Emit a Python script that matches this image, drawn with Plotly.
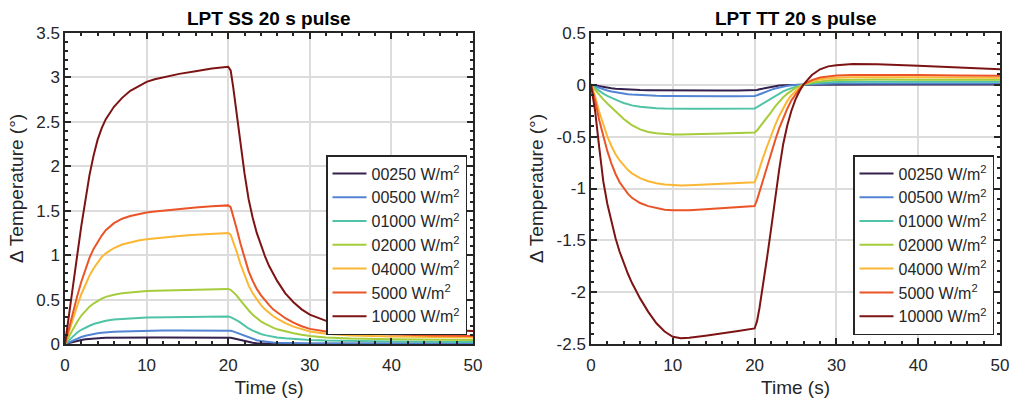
import plotly.graph_objects as go

# ---------------- data ----------------
time_s = [0, 0.5, 1, 1.5, 2, 2.5, 3, 3.5, 4, 4.5,
          5, 6, 7, 8, 9, 10, 11, 12, 14, 16,
          18, 20, 20.3, 20.6, 21, 21.5, 22, 22.5, 23, 23.5,
          24, 24.5, 25, 25.5, 26, 27, 28, 29, 30, 32,
          35, 40, 45, 50]

series_labels = ["00250 W/m<sup>2</sup>", "00500 W/m<sup>2</sup>", "01000 W/m<sup>2</sup>",
                 "02000 W/m<sup>2</sup>", "04000 W/m<sup>2</sup>", "5000 W/m<sup>2</sup>",
                 "10000 W/m<sup>2</sup>"]

# LPT SS 20 s pulse
ss_00250 = [0, 0.013, 0.026, 0.037, 0.046, 0.053, 0.058, 0.062, 0.065, 0.067,
            0.069, 0.071, 0.072, 0.073, 0.073, 0.073, 0.074, 0.074, 0.074, 0.075,
            0.075, 0.075, 0.071, 0.065, 0.055, 0.042, 0.03, 0.02, 0.013, 0.009,
            0.006, 0.005, 0.004, 0.003, 0.003, 0.002, 0.002, 0.002, 0.002, 0.002,
            0.002, 0.002, 0.002, 0.002]
ss_00500 = [0, 0.022, 0.044, 0.063, 0.079, 0.092, 0.103, 0.112, 0.12, 0.126,
            0.131, 0.138, 0.142, 0.145, 0.147, 0.149, 0.15, 0.151, 0.152, 0.153,
            0.154, 0.155, 0.15, 0.142, 0.128, 0.108, 0.088, 0.07, 0.055, 0.043,
            0.034, 0.027, 0.022, 0.018, 0.015, 0.011, 0.009, 0.008, 0.007, 0.006,
            0.006, 0.005, 0.005, 0.005]
ss_01000 = [0, 0.045, 0.09, 0.13, 0.16, 0.185, 0.205, 0.225, 0.24, 0.252,
            0.262, 0.276, 0.284, 0.29, 0.294, 0.297, 0.299, 0.301, 0.304, 0.306,
            0.308, 0.31, 0.303, 0.29, 0.27, 0.24, 0.205, 0.175, 0.15, 0.13,
            0.113, 0.1, 0.09, 0.081, 0.074, 0.064, 0.056, 0.05, 0.045, 0.038,
            0.032, 0.027, 0.024, 0.022]
ss_02000 = [0, 0.09, 0.17, 0.25, 0.32, 0.37, 0.42, 0.455, 0.485, 0.51,
            0.53, 0.555, 0.57, 0.58, 0.59, 0.597, 0.6, 0.603, 0.608, 0.612,
            0.616, 0.62, 0.61, 0.585, 0.55, 0.49, 0.43, 0.38, 0.33, 0.29,
            0.255, 0.23, 0.205, 0.185, 0.165, 0.14, 0.12, 0.103, 0.09, 0.073,
            0.062, 0.054, 0.05, 0.046]
ss_04000 = [0, 0.15, 0.3, 0.43, 0.56, 0.67, 0.77, 0.85, 0.92, 0.98,
            1.02, 1.08, 1.12, 1.145, 1.165, 1.18, 1.19, 1.2, 1.215, 1.23,
            1.24, 1.25, 1.23, 1.16, 1.05, 0.9, 0.77, 0.66, 0.57, 0.5,
            0.44, 0.39, 0.35, 0.315, 0.285, 0.235, 0.195, 0.165, 0.14, 0.115,
            0.097, 0.085, 0.078, 0.073]
ss_05000 = [0, 0.19, 0.37, 0.54, 0.7, 0.84, 0.97, 1.07, 1.15, 1.22,
            1.28, 1.36, 1.41, 1.44, 1.46, 1.48, 1.49, 1.5, 1.52, 1.535,
            1.55, 1.56, 1.54, 1.45, 1.31, 1.13, 0.96, 0.82, 0.71, 0.62,
            0.55, 0.49, 0.44, 0.39, 0.355, 0.29, 0.24, 0.2, 0.17, 0.14,
            0.12, 0.105, 0.095, 0.09]
ss_10000 = [0, 0.35, 0.68, 1.0, 1.33, 1.64, 1.9, 2.12, 2.3, 2.43,
            2.53, 2.67, 2.77, 2.85, 2.9, 2.95, 2.98, 3.0, 3.04, 3.07,
            3.1, 3.12, 3.08, 2.9, 2.62, 2.25, 1.92, 1.63, 1.42, 1.25,
            1.11, 0.99, 0.88, 0.79, 0.71, 0.57, 0.47, 0.39, 0.33, 0.26,
            0.21, 0.18, 0.16, 0.145]

# LPT TT 20 s pulse
tt_00250 = [0, -0.008, -0.016, -0.022, -0.028, -0.033, -0.037, -0.04, -0.043, -0.045,
            -0.047, -0.05, -0.052, -0.053, -0.054, -0.055, -0.055, -0.055, -0.055, -0.055,
            -0.055, -0.054, -0.049, -0.043, -0.036, -0.027, -0.019, -0.012, -0.007, -0.003,
            -0.001, 0.0, 0.001, 0.001, 0.002, 0.002, 0.003, 0.003, 0.004, 0.004,
            0.004, 0.004, 0.004, 0.004]
tt_00500 = [0, -0.015, -0.03, -0.043, -0.054, -0.064, -0.072, -0.079, -0.085, -0.09,
            -0.094, -0.1, -0.104, -0.106, -0.108, -0.109, -0.11, -0.11, -0.11, -0.11,
            -0.109, -0.108, -0.1, -0.09, -0.078, -0.063, -0.049, -0.036, -0.026, -0.017,
            -0.01, -0.005, -0.001, 0.001, 0.003, 0.006, 0.009, 0.011, 0.012, 0.013,
            0.013, 0.013, 0.013, 0.013]
tt_01000 = [0, -0.03, -0.06, -0.085, -0.107, -0.127, -0.145, -0.16, -0.175, -0.188,
            -0.198, -0.212, -0.22, -0.225, -0.228, -0.23, -0.23, -0.23, -0.23, -0.23,
            -0.229, -0.228, -0.215, -0.2, -0.18, -0.155, -0.13, -0.105, -0.083, -0.063,
            -0.046, -0.031, -0.018, -0.007, 0.002, 0.013, 0.02, 0.024, 0.027, 0.03,
            0.03, 0.03, 0.03, 0.03]
tt_02000 = [0, -0.05, -0.1, -0.14, -0.18, -0.22, -0.26, -0.295, -0.33, -0.36,
            -0.39, -0.43, -0.455, -0.468, -0.475, -0.478, -0.48, -0.479, -0.475, -0.47,
            -0.465, -0.46, -0.44, -0.41, -0.375, -0.32, -0.265, -0.21, -0.16, -0.12,
            -0.085, -0.055, -0.032, -0.013, 0.002, 0.022, 0.035, 0.042, 0.046, 0.05,
            0.051, 0.05, 0.049, 0.048]
tt_04000 = [0, -0.11, -0.26, -0.39, -0.5, -0.59, -0.67, -0.73, -0.78, -0.82,
            -0.855, -0.9, -0.93, -0.95, -0.962, -0.968, -0.97, -0.968, -0.962, -0.955,
            -0.948, -0.94, -0.88, -0.8, -0.71, -0.6, -0.49, -0.39, -0.3, -0.22,
            -0.155, -0.1, -0.06, -0.025, 0.005, 0.036, 0.054, 0.064, 0.069, 0.074,
            0.075, 0.073, 0.07, 0.068]
tt_05000 = [0, -0.15, -0.34, -0.5, -0.64, -0.76, -0.86, -0.94, -1.0, -1.05,
            -1.09, -1.14, -1.17, -1.19, -1.205, -1.21, -1.212, -1.21, -1.2, -1.19,
            -1.18, -1.17, -1.11, -1.03, -0.93, -0.8, -0.67, -0.54, -0.42, -0.32,
            -0.23, -0.15, -0.09, -0.04, 0.005, 0.045, 0.07, 0.082, 0.089, 0.095,
            0.096, 0.094, 0.09, 0.087]
tt_10000 = [0, -0.25, -0.6, -0.93, -1.15, -1.33, -1.48, -1.61, -1.72, -1.82,
            -1.91, -2.06, -2.19, -2.3, -2.38, -2.43, -2.445, -2.44, -2.42, -2.4,
            -2.375, -2.35, -2.28, -2.15, -1.95, -1.68, -1.4, -1.1, -0.82, -0.57,
            -0.39, -0.25, -0.14, -0.06, 0.005, 0.095, 0.15, 0.178, 0.19, 0.2,
            0.198, 0.185, 0.168, 0.15]

ss_series = [ss_00250, ss_00500, ss_01000, ss_02000, ss_04000, ss_05000, ss_10000]
tt_series = [tt_00250, tt_00500, tt_01000, tt_02000, tt_04000, tt_05000, tt_10000]

colors = ["#33204d", "#5284d3", "#4fc3a6", "#a5cc3b", "#fbb733", "#ea5426", "#7d1414"]

x_ticks = [0, 10, 20, 30, 40, 50]
x_ticktext = ["0", "10", "20", "30", "40", "50"]
ss_yticks = [0, 0.5, 1, 1.5, 2, 2.5, 3, 3.5]
ss_yticktext = ["0", "0.5", "1", "1.5", "2", "2.5", "3", "3.5"]
tt_yticks = [-2.5, -2, -1.5, -1, -0.5, 0, 0.5]
tt_yticktext = ["-2.5", "-2", "-1.5", "-1", "-0.5", "0", "0.5"]

titles = ["LPT SS 20 s pulse", "LPT TT 20 s pulse"]

# ---------------- figure ----------------
W, H = 1010, 400
FONT = "Liberation Sans, Arial, Helvetica, sans-serif"
INK = "#262626"

fig = go.Figure()
for vals, lab, col in zip(ss_series, series_labels, colors):
    fig.add_trace(go.Scatter(x=time_s, y=vals, mode="lines", name=lab,
                             line=dict(color=col, width=2), xaxis="x", yaxis="y",
                             legend="legend"))
for vals, lab, col in zip(tt_series, series_labels, colors):
    fig.add_trace(go.Scatter(x=time_s, y=vals, mode="lines", name=lab,
                             line=dict(color=col, width=2), xaxis="x2", yaxis="y2",
                             legend="legend2"))

def xax(dom, anchor):
    return dict(domain=dom, anchor=anchor, range=[0, 50], tickvals=x_ticks, ticktext=x_ticktext,
                showline=True, linecolor=INK, linewidth=1.5, mirror="ticks",
                ticks="inside", ticklen=6, tickwidth=1.5, tickcolor=INK,
                minor=dict(dtick=2, ticks="inside", ticklen=3, tickwidth=1.5, tickcolor=INK, showgrid=False),
                showgrid=True, gridcolor="#dcdcdc", gridwidth=1.5, zeroline=False,
                tickfont=dict(size=17, color=INK, family=FONT),
                title=dict(text="Time (s)", font=dict(size=19, color=INK, family=FONT), standoff=7),
                automargin=True, ticklabelstandoff=5, fixedrange=True)

def yax(dom, anchor, rng, tv, tt):
    return dict(domain=dom, anchor=anchor, range=rng, tickvals=tv, ticktext=tt,
                showline=True, linecolor=INK, linewidth=1.5, mirror="ticks",
                ticks="inside", ticklen=6, tickwidth=1.5, tickcolor=INK,
                minor=dict(dtick=0.1, ticks="inside", ticklen=3, tickwidth=1.5, tickcolor=INK, showgrid=False),
                showgrid=True, gridcolor="#dcdcdc", gridwidth=1.5, zeroline=False,
                tickfont=dict(size=17, color=INK, family=FONT),
                title=dict(text="Δ Temperature (°)", font=dict(size=19, color=INK, family=FONT), standoff=8),
                automargin=True, ticklabelstandoff=0, fixedrange=True)

ydom = [(H - 344) / H, (H - 33) / H]
legend_style = dict(xanchor="left", yanchor="top", bgcolor="white", bordercolor=INK, borderwidth=1.5,
                    font=dict(size=16, color=INK, family=FONT), itemwidth=34, tracegroupgap=0)
fig.update_layout(
    width=W, height=H, margin=dict(l=0, r=0, t=0, b=0, autoexpand=False),
    paper_bgcolor="white", plot_bgcolor="white",
    font=dict(family=FONT, color=INK),
    xaxis=xax([65 / W, 473 / W], "y"),
    yaxis=yax(ydom, "x", [0, 3.5], ss_yticks, ss_yticktext),
    xaxis2=xax([591 / W, 1000 / W], "y2"),
    yaxis2=yax(ydom, "x2", [-2.5, 0.5], tt_yticks, tt_yticktext),
    legend=dict(x=326 / W, y=(H - 155) / H, **legend_style),
    legend2=dict(x=853 / W, y=(H - 155) / H, **legend_style),
    showlegend=True,
)

for t, cx in zip(titles, [(65 + 473) / 2 / W, (591 + 1000) / 2 / W]):
    fig.add_annotation(text="<b>%s</b>" % t, x=cx, y=(H - 18) / H, xref="paper", yref="paper",
                       xanchor="center", yanchor="middle", showarrow=False,
                       font=dict(size=19, color="black", family=FONT))

fig.write_html("out.html")
